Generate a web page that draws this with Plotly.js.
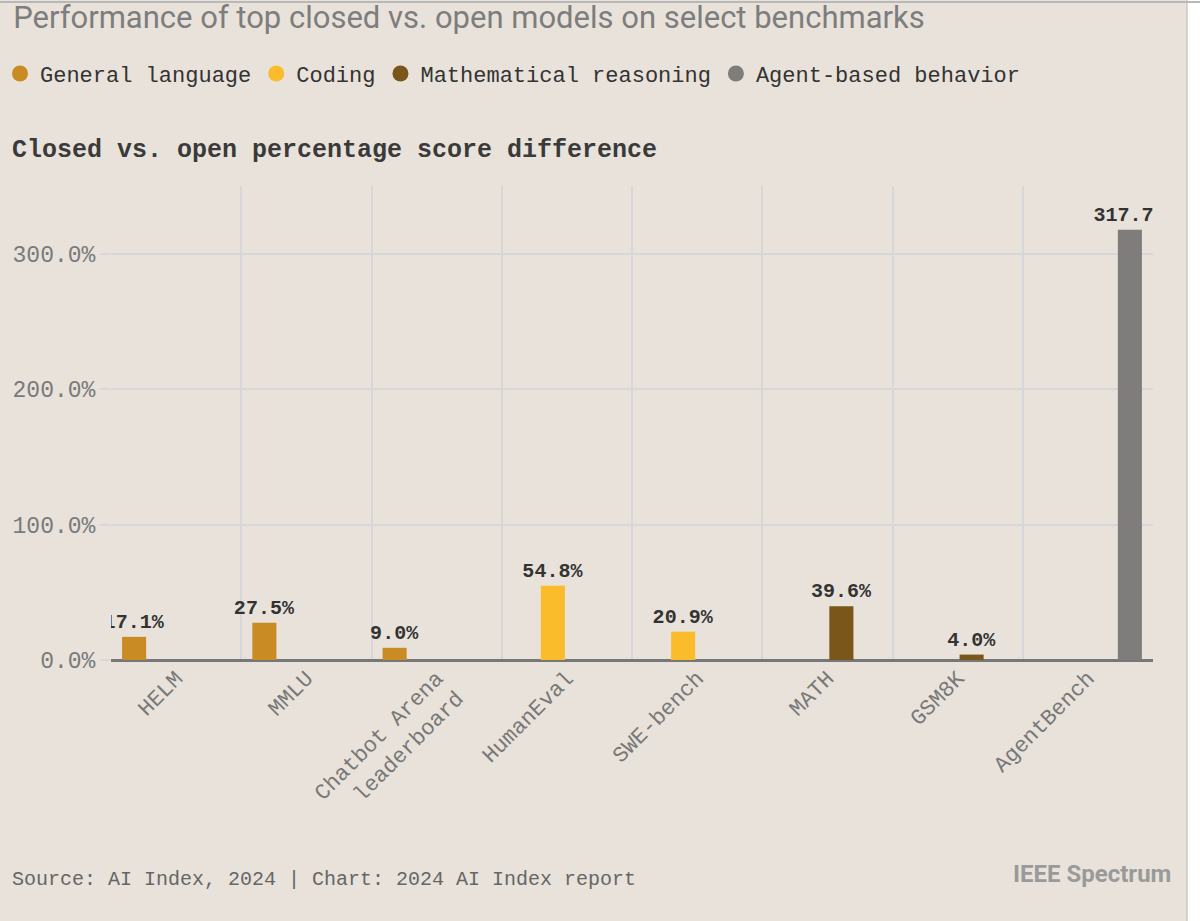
<!DOCTYPE html>
<html>
<head>
<meta charset="utf-8">
<script src="https://cdn.plot.ly/plotly-3.0.1.min.js"></script>
<style>html,body{margin:0;padding:0;background:#e8e2da;}</style>
</head>
<body>
<div id="chart" style="width:1200px;height:921px;"></div>
<script>
// Data
const generalCats = ["HELM", "MMLU", "Chatbot Arena<br>leaderboard"];
const generalVals = [17.1, 27.5, 9.0];
const codingCats = ["HumanEval", "SWE-bench"];
const codingVals = [54.8, 20.9];
const mathCats = ["MATH", "GSM8K"];
const mathVals = [39.6, 4.0];
const agentCats = ["AgentBench"];
const agentVals = [317.7];
const categoryOrder = ["HELM", "MMLU", "Chatbot Arena<br>leaderboard", "HumanEval", "SWE-bench", "MATH", "GSM8K", "AgentBench"];
const seriesNames = ["General language", "Coding", "Mathematical reasoning", "Agent-based behavior"];
const seriesColors = ["#c98b24", "#fbbc2c", "#7b561b", "#7f7d7b"];

const mono = "Liberation Mono, DejaVu Sans Mono, monospace";
const bg = "#e8e2da";

function barTrace(i, x, y) {
  return {
    type: "bar", name: seriesNames[i], x: x, y: y,
    offsetgroup: String(i + 1),
    legendgroup: String(i + 1),
    showlegend: false,
    marker: {color: seriesColors[i]},
    texttemplate: "%{y:.1f}%",
    textposition: "outside",
    constraintext: "none",
    cliponaxis: true,
    textfont: {family: mono, size: 20, color: "#333333", weight: 700},
    hoverinfo: "x+y"
  };
}

function legendTrace(i) {
  return {
    type: "scatter", mode: "markers", name: seriesNames[i],
    x: [null], y: [null],
    legendgroup: String(i + 1),
    marker: {color: seriesColors[i], symbol: "circle", size: 16},
    hoverinfo: "skip"
  };
}

const traces = [
  barTrace(0, generalCats, generalVals),
  barTrace(1, codingCats, codingVals),
  barTrace(2, mathCats, mathVals),
  barTrace(3, agentCats, agentVals),
  legendTrace(0), legendTrace(1), legendTrace(2), legendTrace(3)
];

const L = 111, R = 47, T = 186, B = 261;
const pw = 1200 - L - R, ph = 921 - T - B;
function px(x) { return (x - L) / pw; }
function py(y) { return (921 - B - y) / ph; }

const layout = {
  width: 1200, height: 921,
  paper_bgcolor: bg, plot_bgcolor: bg,
  margin: {l: L, r: R, t: T, b: B},
  barmode: "group",
  bargap: 0.14,
  bargroupgap: 0.14,
  title: {
    text: "Performance of top closed vs. open models on select benchmarks",
    xref: "container", x: 0.011, xanchor: "left",
    yref: "container", y: 0.981, yanchor: "middle",
    font: {family: "Liberation Sans Narrow, Roboto, sans-serif", size: 31, color: "#7d7d7d", weight: 400}
  },
  showlegend: true,
  legend: {
    orientation: "h",
    xref: "container", x: 0.0, xanchor: "left",
    yref: "container", y: 0.92, yanchor: "middle",
    font: {family: mono, size: 22, color: "#333333"},
    bgcolor: "rgba(0,0,0,0)",
    itemclick: false, itemdoubleclick: false,
    traceorder: "normal"
  },
  xaxis: {
    type: "category",
    categoryorder: "array", categoryarray: categoryOrder,
    tickson: "boundaries",
    showgrid: true, gridcolor: "#d7d6d8", gridwidth: 1.5,
    ticks: "", ticklen: 0,
    tickangle: -45,
    tickfont: {family: mono, size: 22, color: "#787878"},
    showline: false, zeroline: false,
    fixedrange: true
  },
  yaxis: {
    range: [0, 350],
    dtick: 100,
    tick0: 0,
    tickformat: ".1f", ticksuffix: "%",
    showgrid: true, gridcolor: "#d7d6d8", gridwidth: 1.5,
    ticks: "outside", ticklen: 10, tickcolor: "#d7d6d8", tickwidth: 1.5,
    tickfont: {family: mono, size: 23, color: "#7a7a7a"},
    zeroline: true, zerolinecolor: "#777777", zerolinewidth: 3,
    showline: false,
    fixedrange: true
  },
  annotations: [
    {
      text: "Closed vs. open percentage score difference",
      xref: "paper", yref: "paper", x: px(10), y: py(150),
      xanchor: "left", yanchor: "middle", showarrow: false,
      font: {family: mono, size: 25, color: "#3a3a3a", weight: 700}
    },
    {
      text: "Source: AI Index, 2024 | Chart: 2024 AI Index report",
      xref: "paper", yref: "paper", x: px(10), y: py(879),
      xanchor: "left", yanchor: "middle", showarrow: false,
      font: {family: mono, size: 20, color: "#666666"}
    },
    {
      text: "IEEE Spectrum",
      xref: "paper", yref: "paper", x: px(1173), y: py(874),
      xanchor: "right", yanchor: "middle", showarrow: false,
      font: {family: "Liberation Sans Narrow, Roboto, sans-serif", size: 24, color: "#9a9a9a", weight: 700}
    }
  ],
  shapes: [
    {type: "rect", xref: "paper", yref: "paper", x0: px(1187), x1: px(1205), y0: py(925), y1: py(-5),
     fillcolor: "#ffffff", line: {width: 0}, layer: "below"},
    {type: "line", xref: "paper", yref: "paper", x0: px(1187), x1: px(1187), y0: py(925), y1: py(0),
     line: {color: "#c8c8c8", width: 1.5}},
    {type: "line", xref: "paper", yref: "paper", x0: px(0), x1: px(1200), y0: py(2), y1: py(2),
     line: {color: "#b8b8b8", width: 2}}
  ]
};

Plotly.newPlot("chart", traces, layout, {displayModeBar: false});
</script>
</body>
</html>
